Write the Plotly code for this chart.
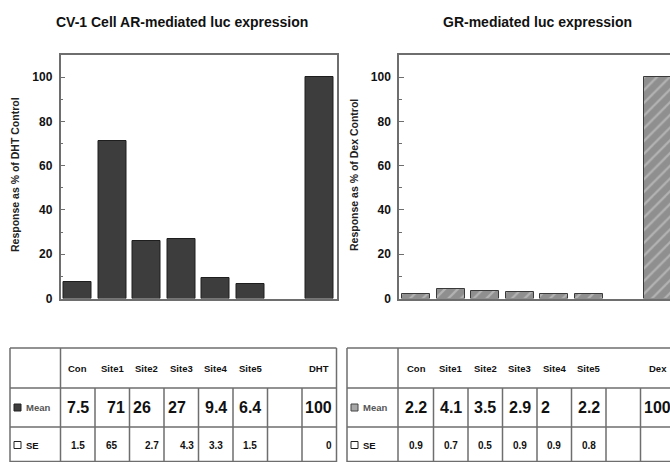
import plotly.graph_objects as go

# ---------------- data ----------------
categories = ["Con", "Site1", "Site2", "Site3", "Site4", "Site5", "", "DHT"]
categories_gr = ["Con", "Site1", "Site2", "Site3", "Site4", "Site5", "", "Dex"]
ar_mean = [7.5, 71, 26, 27, 9.4, 6.4, None, 100]
ar_se = [1.5, 65, 2.7, 4.3, 3.3, 1.5, None, 0]
gr_mean = [2.2, 4.1, 3.5, 2.9, 2, 2.2, None, 100]
gr_se = [0.9, 0.7, 0.5, 0.9, 0.9, 0.8, None, 0]
ytick_vals = [0, 20, 40, 60, 80, 100]

# per-cell text alignment (style only)
ar_mean_align = ["c", "r", "l", "l", "c", "c", "c", "r"]
ar_se_align = ["c", "c", "r", "r", "c", "c", "c", "r"]
gr_mean_align = ["c", "c", "c", "c", "l", "c", "c", "l"]
gr_se_align = ["c", "c", "c", "c", "c", "c", "c", "r"]

W, H = 670, 462
FONT = "Liberation Sans, Arial, Helvetica, sans-serif"
LINE = "#6e6e6e"


def px(x):
    return x / W


def py(y):
    return 1 - y / H


idx = list(range(len(categories)))

fig = go.Figure()
fig.add_trace(go.Bar(
    x=idx, y=ar_mean, width=0.81, xaxis="x", yaxis="y",
    marker=dict(color="#3d3d3d", line=dict(color="#1e1e1e", width=1)),
    showlegend=False, hoverinfo="skip"))
fig.add_trace(go.Bar(
    x=idx, y=gr_mean, width=0.81, xaxis="x2", yaxis="y2",
    marker=dict(color="#8f8f8f", line=dict(color="#3a3a3a", width=1),
                pattern=dict(shape="/", fgcolor="#d8d8d8", bgcolor="#8f8f8f",
                             size=9, solidity=0.25)),
    showlegend=False, hoverinfo="skip"))

slot = 34.5
left_x0 = 60.5
right_x0 = 399.0
plot_top, plot_bot = 55.0, 298.5

yax_common = dict(
    range=[0, 110], tickvals=ytick_vals, ticks="inside", ticklen=5,
    tickcolor=LINE, tickwidth=1.2,
    minor=dict(dtick=10, ticks="inside", ticklen=3, tickcolor=LINE),
    showgrid=False, zeroline=False, showline=True, linecolor=LINE,
    linewidth=1.5, ticklabelstandoff=4,
    tickfont=dict(family=FONT, size=12, color="#111", weight="bold"),
)

fig.update_layout(
    width=W, height=H, margin=dict(l=0, r=0, t=0, b=0, autoexpand=False),
    paper_bgcolor="white", plot_bgcolor="white", bargap=0,
    xaxis=dict(domain=[px(left_x0), px(left_x0 + 8 * slot)], range=[-0.5, 7.5],
               showticklabels=False, ticks="", showgrid=False, zeroline=False,
               showline=True, mirror=True, linecolor=LINE, linewidth=1.5),
    yaxis=dict(domain=[py(plot_bot), py(plot_top)], anchor="x", mirror=True,
               **yax_common),
    xaxis2=dict(domain=[px(right_x0), 1.0],
                range=[-0.5, -0.5 + (W - right_x0) / slot],
                showticklabels=False, ticks="", showgrid=False, zeroline=False,
                showline=True, mirror=True, linecolor=LINE, linewidth=1.5,
                anchor="y2"),
    yaxis2=dict(domain=[py(plot_bot), py(plot_top)], anchor="x2", mirror=False,
                **yax_common),
)

ann = []
shapes = []


def text(t, x, y, xref="paper", size=10, color="#111", xanchor="center",
         xshift=0, angle=0):
    ann.append(dict(text=t, x=x, y=py(y), xref=xref, yref="paper",
                    xanchor=xanchor, yanchor="middle", xshift=xshift,
                    showarrow=False, textangle=angle,
                    font=dict(family=FONT, size=size, color=color,
                              weight="bold")))


# titles
text("CV-1 Cell AR-mediated luc expression", px(182), 22, size=14)
text("GR-mediated luc expression", px(537), 22, size=14)
# y titles
text("Response as % of DHT Control", px(15), 175, size=10.5, color="#222",
     angle=-90)
text("Response as % of Dex Control", px(354), 175, size=10.5, color="#222",
     angle=-90)

# ---------------- tables ----------------
t_top, t_h1, t_h2, t_bot = 348, 388, 427, 462
y_head, y_mean, y_se = 368, 407.5, 445


def hline(x0, x1, y):
    shapes.append(dict(type="line", xref="paper", yref="paper",
                       x0=px(x0), x1=px(x1), y0=py(y), y1=py(y),
                       line=dict(color=LINE, width=1.5)))


def vline_paper(x, y0, y1):
    shapes.append(dict(type="line", xref="paper", yref="paper",
                       x0=px(x), x1=px(x), y0=py(y0), y1=py(y1),
                       line=dict(color=LINE, width=1.5)))


def build_table(xref, left_edge, col_edge, right_edge, cats, means, ses,
                malign, salign, marker_style):
    hline(left_edge, right_edge, t_top)
    hline(left_edge, right_edge, t_h1)
    hline(left_edge, right_edge, t_h2)
    hline(left_edge, right_edge, t_bot - 0.5)
    vline_paper(left_edge, t_top, t_bot)
    vline_paper(col_edge, t_top, t_bot)
    if right_edge < W:
        vline_paper(right_edge, t_top, t_bot)
    for k in range(len(cats) - 1):
        shapes.append(dict(type="line", xref=xref, yref="paper",
                           x0=k + 0.5, x1=k + 0.5, y0=py(t_h1), y1=py(t_bot),
                           line=dict(color=LINE, width=1.5)))
    # row labels
    mx = left_edge + 4
    fill, edge = ("#3d3d3d", "#222") if marker_style == "dark" else ("#a8a8a8", "#444")
    shapes.append(dict(type="rect", xref="paper", yref="paper",
                       x0=px(mx), x1=px(mx + 7), y0=py(y_mean + 3.5),
                       y1=py(y_mean - 3.5), fillcolor=fill,
                       line=dict(color=edge, width=1)))
    shapes.append(dict(type="rect", xref="paper", yref="paper",
                       x0=px(mx), x1=px(mx + 7), y0=py(y_se + 3.5),
                       y1=py(y_se - 3.5), fillcolor="white",
                       line=dict(color="#222", width=1)))
    text("Mean", px(mx + 10), y_mean, size=9.5, color="#555", xanchor="left")
    text("SE", px(mx + 10), y_se, size=9.5, color="#111", xanchor="left")
    for k, c in enumerate(cats):
        if c:
            text(c, k, y_head, xref=xref, size=9.5)
        for vals, aligns, yy, size in ((means, malign, y_mean, 16),
                                       (ses, salign, y_se, 10)):
            v = vals[k]
            if v is None:
                continue
            a = aligns[k]
            if a == "l":
                xx, xa, sh = k - 0.5, "left", 1.5
            elif a == "r":
                xx, xa, sh = k + 0.5, "right", -3
            else:
                xx, xa, sh = k, "center", 0
            text(f"{v:g}", xx, yy, xref=xref, size=size, xanchor=xa, xshift=sh)


build_table("x", 10, left_x0, left_x0 + 8 * slot, categories, ar_mean, ar_se,
            ar_mean_align, ar_se_align, "dark")
build_table("x2", 347, 398, W + 10, categories_gr, gr_mean, gr_se,
            gr_mean_align, gr_se_align, "light")

fig.update_layout(annotations=ann, shapes=shapes)
fig.write_html("out.html", config={"displayModeBar": False},
               post_script="document.body.style.margin='0px';"
                           "document.body.style.overflow='hidden';")
